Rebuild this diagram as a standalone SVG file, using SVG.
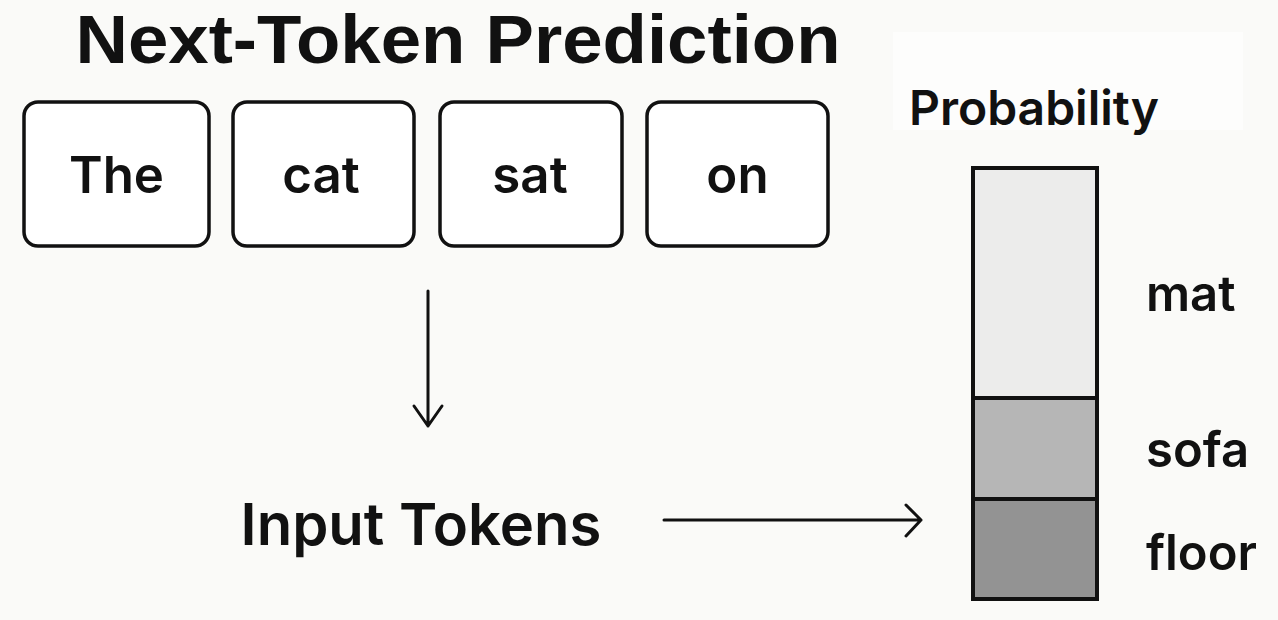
<svg xmlns="http://www.w3.org/2000/svg" width="1278" height="620" viewBox="0 0 1278 620">
<style>
.t{font-family:Inter,"Liberation Sans",Arial,sans-serif;fill:#111;font-weight:600;}
.h{font-family:"Liberation Sans",Arial,sans-serif;fill:#111;font-weight:bold;}
.box{fill:#fff;stroke:#111;stroke-width:3.5;}
.seg{stroke:#111;stroke-width:4;}
.conn{fill:none;stroke:#111;stroke-width:3;stroke-linecap:round;stroke-linejoin:round;}
</style>
<rect width="1278" height="620" fill="#fafaf8"/>
<rect x="893" y="32" width="350" height="98" fill="#fdfdfc"/>
<text class="h" x="458" y="63" font-size="68" text-anchor="middle" textLength="765" lengthAdjust="spacingAndGlyphs">Next-Token Prediction</text>
<g id="tok-the"><rect class="box" x="24" y="102" width="185" height="144" rx="14"/><text class="t" x="116.5" y="193" font-size="51" text-anchor="middle">The</text></g>
<g id="tok-cat"><rect class="box" x="233" y="102" width="181" height="144" rx="14"/><text class="t" x="321" y="193" font-size="51" text-anchor="middle">cat</text></g>
<g id="tok-sat"><rect class="box" x="440" y="102" width="182" height="144" rx="14"/><text class="t" x="530" y="193" font-size="51" text-anchor="middle">sat</text></g>
<g id="tok-on"><rect class="box" x="647" y="102" width="181" height="144" rx="14"/><text class="t" x="737.5" y="193" font-size="51" text-anchor="middle">on</text></g>
<g id="input-label"><text class="t" x="421" y="545" font-size="58" text-anchor="middle">Input Tokens</text></g>
<g id="prob-bar">
<text class="t" x="1034" y="125" font-size="48" text-anchor="middle">Probability</text>
<rect class="seg" x="973" y="168" width="124" height="230" fill="#ececeb"/>
<rect class="seg" x="973" y="398" width="124" height="101" fill="#b6b6b6"/>
<rect class="seg" x="973" y="499" width="124" height="100" fill="#939393"/>
<text class="t" x="1146" y="311" font-size="49">mat</text>
<text class="t" x="1146" y="467" font-size="49">sofa</text>
<text class="t" x="1146" y="570" font-size="49">floor</text>
</g>
<g id="connectors">
<path class="conn" d="M428 291 V426 M414 406 L428 426 L442 406"/>
<path class="conn" d="M664 520 H921 M906 505 L921 520 L906 536"/>
</g>
</svg>
